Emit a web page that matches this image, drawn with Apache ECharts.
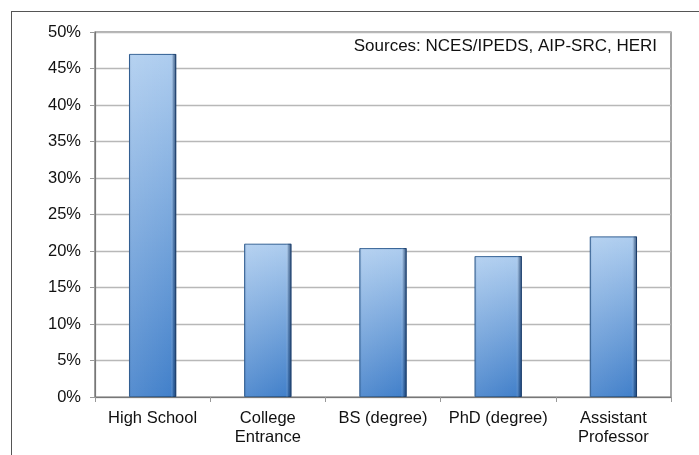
<!DOCTYPE html>
<html>
<head>
<meta charset="utf-8">
<script src="https://cdn.jsdelivr.net/npm/echarts@6/dist/echarts.min.js"></script>
<style>
html,body{margin:0;padding:0;background:#fff;}
#frame{position:absolute;left:11px;top:11px;width:720px;height:480px;border-left:1.5px solid #555;border-top:1.5px solid #555;}
#c{position:absolute;left:0;top:0;width:699px;height:455px;}
</style>
</head>
<body>
<div id="frame"></div>
<div id="c"></div>
<script>
const categories = ['High School', 'College\nEntrance', 'BS (degree)', 'PhD (degree)', 'Assistant\nProfessor'];
const values = [47.0, 21.0, 20.4, 19.3, 22.0];
const yTicks = [0, 5, 10, 15, 20, 25, 30, 35, 40, 45, 50];
const sourceText = 'Sources: NCES/IPEDS, AIP-SRC, HERI';

const font = 'Liberation Sans, Arial, sans-serif';
const chart = echarts.init(document.getElementById('c'), null, {renderer: 'canvas'});
chart.setOption({
  backgroundColor: 'transparent',
  animation: false,
  grid: {left: 95, right: 28, top: 32, bottom: 58, show: true, borderColor: '#666', borderWidth: 1.2},
  graphic: [{
    type: 'text', right: 42, top: 38,
    style: {text: sourceText, font: '17px ' + font, fill: '#111', textAlign: 'right'}
  }],
  xAxis: {
    type: 'category', data: categories,
    axisLine: {lineStyle: {color: '#777', width: 1.2}},
    axisTick: {show: true, length: 5, lineStyle: {color: '#999'}},
    axisLabel: {color: '#111', fontSize: 16.5, fontFamily: font, margin: 12, lineHeight: 19, interval: 0}
  },
  yAxis: {
    type: 'value', min: 0, max: 50, interval: 5,
    axisLine: {show: true, lineStyle: {color: '#777', width: 1.2}},
    axisTick: {show: true, length: 5, lineStyle: {color: '#999'}},
    splitLine: {lineStyle: {color: '#b8b8b8', width: 1.3}},
    axisLabel: {color: '#111', fontSize: 16.5, fontFamily: font, margin: 14,
      formatter: v => yTicks.includes(v) ? v + '%' : ''}
  },
  series: [{
    type: 'bar', data: values, barWidth: '41%',
    itemStyle: {
      color: new echarts.graphic.LinearGradient(0, 0, 0, 1, [
        {offset: 0, color: '#aecdef'},
        {offset: 1, color: '#4280ca'}
      ]),
      borderColor: '#2a5a90', borderWidth: 1
    }
  }, {
    type: 'bar', data: values, barWidth: '41%', barGap: '-100%', silent: true,
    itemStyle: {
      color: new echarts.graphic.LinearGradient(0, 0, 1, 0, [
        {offset: 0, color: 'rgba(30,70,120,0.25)'},
        {offset: 0.06, color: 'rgba(255,255,255,0.1)'},
        {offset: 0.88, color: 'rgba(255,255,255,0)'},
        {offset: 0.94, color: 'rgba(20,50,90,0.35)'},
        {offset: 1, color: 'rgba(15,40,80,0.7)'}
      ])
    }
  }]
});
</script>
</body>
</html>
